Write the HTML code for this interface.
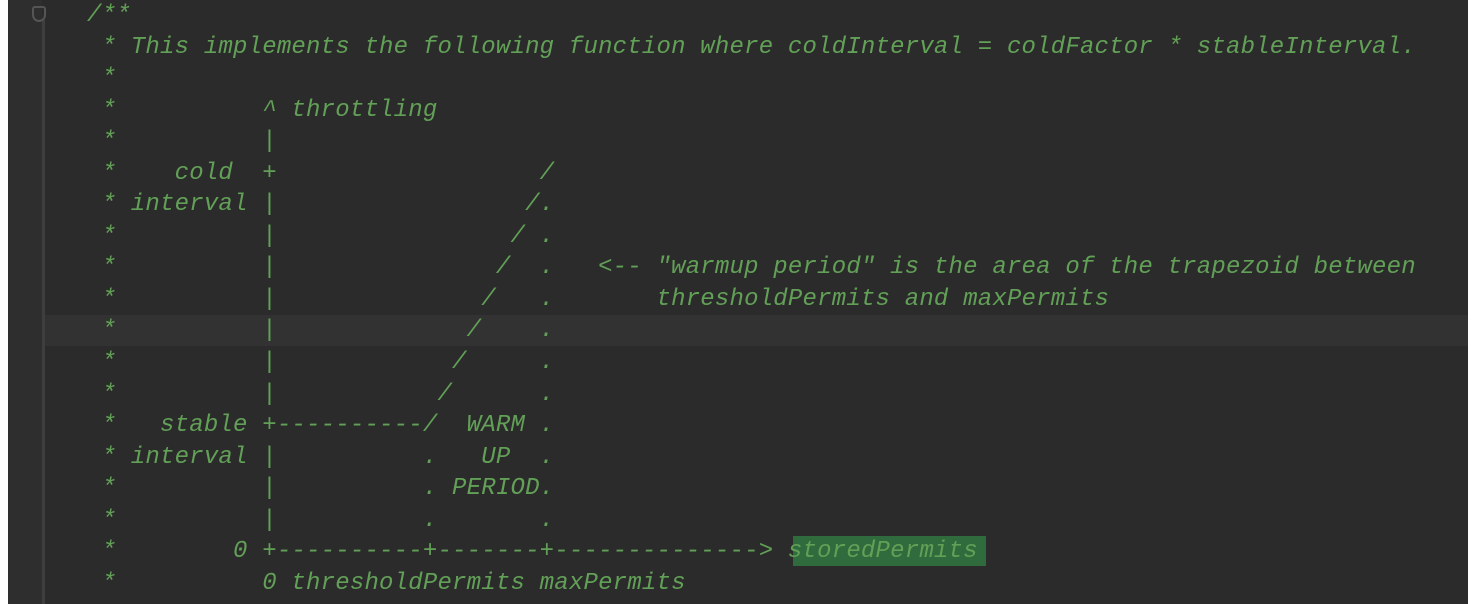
<!DOCTYPE html>
<html><head><style>
html,body{margin:0;padding:0;}
body{width:1480px;height:604px;background:#fff;position:relative;overflow:hidden;}
#ed{position:absolute;left:8px;top:0;width:1460px;height:604px;background:#2b2b2b;}
#gut{position:absolute;left:0;top:0;width:34px;height:604px;background:#2e2e2e;}
#gl{position:absolute;left:34px;top:20px;width:3px;height:584px;background:#3e3e3e;}
#hl{position:absolute;left:37px;top:315px;width:1423px;height:31px;background:#323232;}
#sp{position:absolute;left:793px;top:536px;width:193px;height:30px;background:#2f6b3c;}
pre{position:absolute;left:87px;top:0px;margin:0;font-family:"Liberation Mono",monospace;font-style:italic;font-size:24px;letter-spacing:0.2px;line-height:31.55px;color:#62a057;}
#fold{position:absolute;left:32px;top:6px;width:14px;height:16px;border:2px solid #555;border-radius:3px 3px 7px 7px;box-sizing:border-box;}
</style></head><body>
<div id="ed"><div id="gut"></div><div id="gl"></div><div id="hl"></div></div>
<div id="sp"></div>
<div id="fold"></div>
<pre>/**
 * This implements the following function where coldInterval = coldFactor * stableInterval.
 *
 *          ^ throttling
 *          |
 *    cold  +                  /
 * interval |                 /.
 *          |                / .
 *          |               /  .   &lt;-- "warmup period" is the area of the trapezoid between
 *          |              /   .       thresholdPermits and maxPermits
 *          |             /    .
 *          |            /     .
 *          |           /      .
 *   stable +----------/  WARM .
 * interval |          .   UP  .
 *          |          . PERIOD.
 *          |          .       .
 *        0 +----------+-------+--------------&gt; storedPermits
 *          0 thresholdPermits maxPermits</pre>
</body></html>
